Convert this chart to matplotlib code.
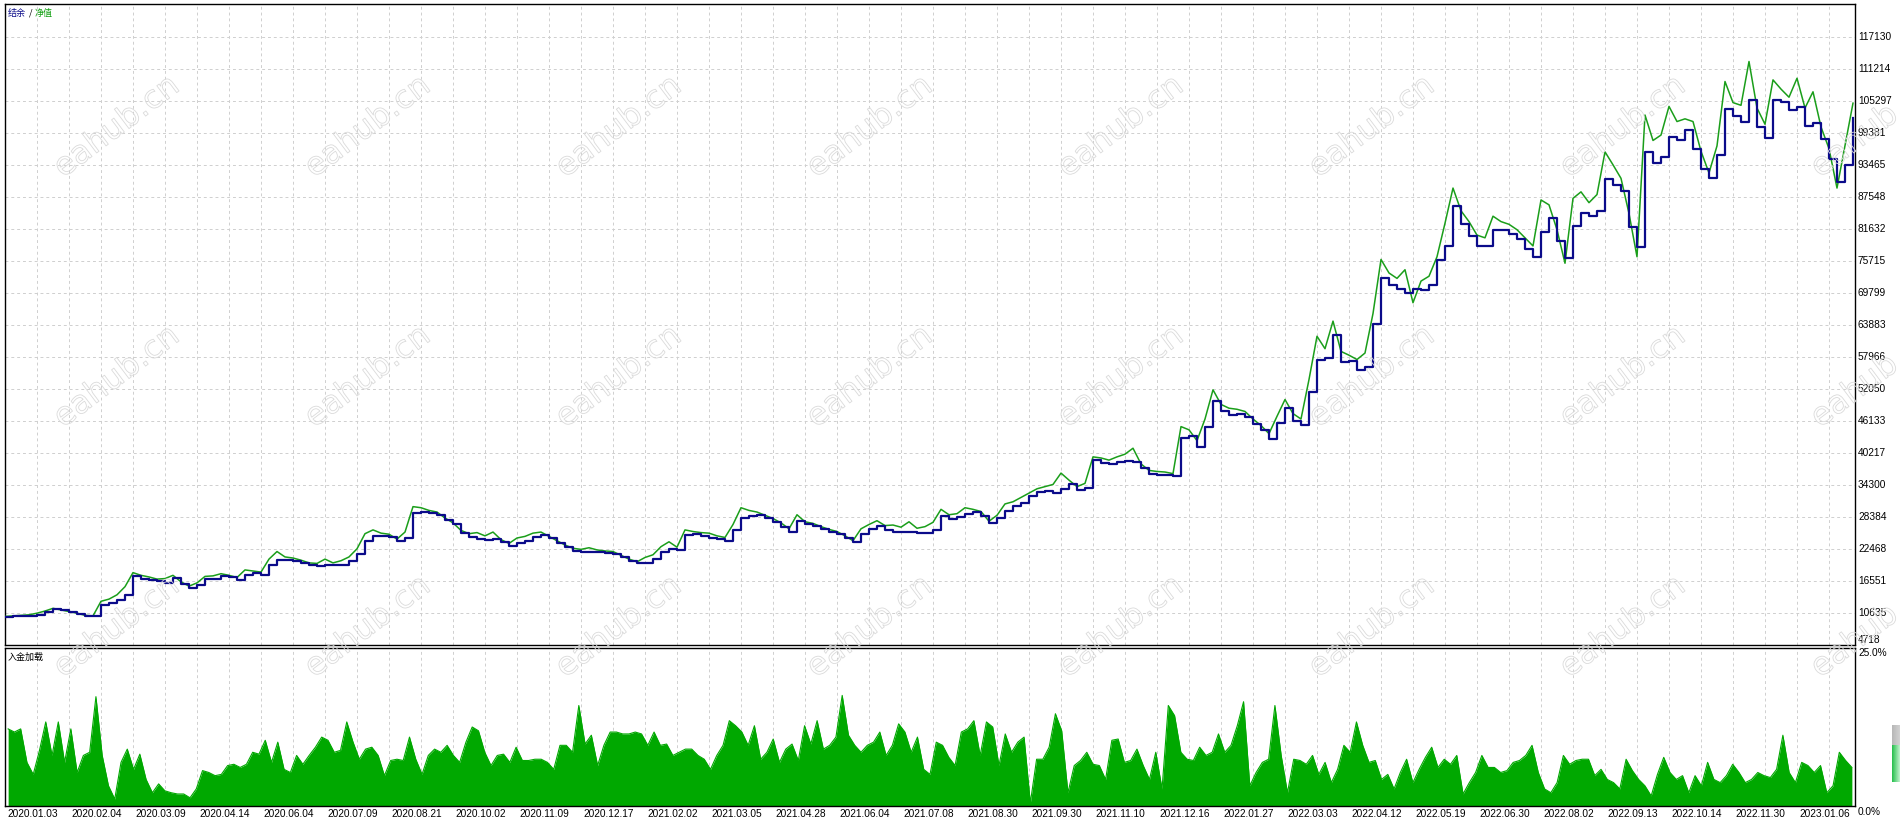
import numpy as np
import matplotlib
matplotlib.use("Agg")
import matplotlib.pyplot as plt
from matplotlib import patheffects
import matplotlib.transforms as mtransforms

# ---------------- data ----------------
date_labels = ["2020.01.03", "2020.02.04", "2020.03.09", "2020.04.14", "2020.06.04",
               "2020.07.09", "2020.08.21", "2020.10.02", "2020.11.09", "2020.12.17",
               "2021.02.02", "2021.03.05", "2021.04.28", "2021.06.04", "2021.07.08",
               "2021.08.30", "2021.09.30", "2021.11.10", "2021.12.16", "2022.01.27",
               "2022.03.03", "2022.04.12", "2022.05.19", "2022.06.30", "2022.08.02",
               "2022.09.13", "2022.10.14", "2022.11.30", "2023.01.06"]

y_tick_values = [4718, 10635, 16551, 22468, 28384, 34300, 40217, 46133, 52050, 57966,
                 63883, 69799, 75715, 81632, 87548, 93465, 99381, 105297, 111214, 117130]

load_tick_labels = ["25.0%", "0.0%"]

# balance (thousands)
balance_k = [9.9, 10.0, 10.0, 10.1, 10.3, 10.8, 11.3, 11.1, 10.8, 10.5,
             10.1, 10.0, 12.2, 12.5, 13.1, 14.0, 17.4, 17.0, 16.8, 16.5,
             16.2, 17.1, 16.0, 15.3, 15.8, 16.9, 17.0, 17.4, 17.2, 16.8,
             17.6, 18.0, 17.7, 19.5, 20.5, 20.5, 20.2, 19.9, 19.5, 19.3,
             19.6, 19.6, 19.6, 20.2, 21.5, 24.0, 24.8, 24.8, 24.6, 23.9,
             24.5, 29.1, 29.4, 29.1, 28.8, 27.8, 27.0, 25.4, 24.6, 24.4,
             24.2, 24.3, 23.8, 23.0, 23.5, 23.9, 24.6, 25.1, 24.5, 23.6,
             22.8, 22.1, 22.0, 22.0, 21.9, 21.7, 21.5, 21.0, 20.2, 19.8,
             19.9, 20.6, 22.0, 22.5, 22.3, 25.0, 25.2, 24.8, 24.5, 24.4,
             23.9, 26.0, 28.2, 28.5, 28.8, 28.2, 27.5, 26.5, 25.7, 27.6,
             27.0, 26.7, 26.2, 25.7, 25.3, 24.5, 23.7, 25.3, 26.2, 26.7,
             25.9, 25.7, 25.7, 25.6, 25.5, 25.4, 26.0, 28.5, 28.0, 28.3,
             29.0, 29.3, 28.6, 27.3, 28.2, 29.5, 30.4, 31.0, 32.2, 33.0,
             33.2, 32.8, 33.5, 34.5, 33.4, 33.7, 39.0, 38.4, 38.1, 38.5,
             38.7, 38.6, 37.5, 36.3, 36.2, 36.2, 35.9, 43.0, 43.3, 41.4,
             45.0, 49.8, 48.0, 47.3, 47.5, 46.8, 45.5, 44.5, 42.8, 45.7,
             48.5, 46.2, 45.4, 51.5, 57.5, 57.8, 62.0, 57.0, 57.2, 55.6,
             56.2, 64.0, 72.5, 71.2, 70.5, 69.8, 70.5, 70.4, 71.3, 75.9,
             78.4, 85.8, 82.5, 80.3, 78.4, 78.5, 81.5, 81.5, 80.7, 79.8,
             78.0, 76.5, 81.0, 83.6, 79.5, 76.2, 82.1, 84.5, 84.0, 85.0,
             90.8, 89.8, 88.6, 82.0, 78.3, 95.9, 93.8, 95.0, 98.6, 98.1,
             100.0, 96.5, 92.8, 91.0, 95.3, 103.9, 102.5, 101.5, 105.5, 100.4,
             98.4, 105.5, 105.2, 103.6, 104.2, 100.6, 101.2, 98.2, 94.5, 90.4,
             93.5, 102.1]

# equity (thousands)
equity_k = [10.0, 10.1, 10.2, 10.3, 10.6, 11.0, 11.5, 11.2, 10.9, 10.6,
            10.2, 10.1, 12.8, 13.2, 14.0, 15.5, 18.1, 17.6, 17.3, 16.9,
            17.0, 17.6, 16.4, 15.6, 16.2, 17.4, 17.5, 17.9, 17.6, 17.2,
            18.6, 18.4, 18.2, 20.6, 22.0, 21.0, 20.8, 20.4, 19.9, 19.8,
            20.6, 19.9, 20.3, 21.0, 22.5, 25.3, 26.0, 25.4, 25.2, 24.3,
            25.6, 30.3, 30.1, 29.6, 29.3, 28.2, 27.3, 25.9, 25.3, 25.5,
            24.9, 25.6, 24.2, 23.5, 24.5, 24.8, 25.4, 25.6, 24.8, 24.0,
            23.2, 22.6, 22.4, 22.7, 22.3, 22.1, 22.0, 21.3, 20.6, 20.1,
            20.9, 21.4, 22.9, 23.8, 22.8, 26.0, 25.7, 25.5, 25.4, 24.9,
            24.6, 27.0, 30.1, 29.6, 29.3, 28.7, 28.1, 27.3, 26.2, 28.8,
            27.5, 27.2, 26.6, 26.1, 25.7, 24.9, 24.0, 26.2, 27.0, 27.7,
            26.8, 26.9, 26.5, 27.5, 26.3, 26.6, 27.4, 29.8, 28.8, 29.0,
            30.1, 29.8, 29.4, 27.6, 28.7, 30.8, 31.2, 32.0, 32.8, 33.6,
            34.0, 34.4, 36.5, 35.2, 34.0, 34.6, 39.5, 39.3, 38.9, 39.5,
            40.0, 41.1, 38.2, 37.0, 36.8, 36.7, 36.4, 45.1, 44.5, 42.5,
            46.5, 51.9, 49.2, 48.5, 48.3, 47.9, 46.5, 45.3, 43.8, 47.0,
            50.1, 47.5, 46.5, 53.8, 61.8, 59.5, 64.6, 59.0, 58.3, 57.5,
            58.7, 66.0, 76.0, 73.5, 72.5, 74.1, 68.0, 72.0, 72.9, 76.5,
            82.7, 89.2, 85.0, 83.0, 80.5, 80.0, 84.0, 83.0, 82.5, 81.5,
            80.0, 78.5, 87.0, 86.1, 81.5, 75.3, 87.3, 88.5, 86.5, 88.0,
            95.9, 93.5, 91.0, 84.5, 76.5, 102.7, 98.0, 99.0, 104.3, 101.5,
            102.0, 101.5, 96.0, 92.0, 97.0, 108.9, 105.0, 104.5, 112.6, 104.0,
            101.0, 109.2, 107.5, 106.0, 109.5, 104.0, 107.0, 100.5, 96.5, 89.2,
            97.0, 104.9]

# deposit load (%)
deposit_load = [12.2, 11.7, 12.2, 6.9, 5.0, 8.8, 13.3, 8.0, 13.3, 6.9,
                12.2, 5.3, 8.0, 8.5, 17.3, 8.0, 3.2, 1.1, 6.9, 9.0,
                5.8, 8.2, 4.2, 2.1, 3.5, 2.4, 2.1, 1.9, 1.9, 1.3,
                2.7, 5.6, 5.3, 4.8, 5.0, 6.4, 6.6, 6.1, 6.6, 8.5,
                8.2, 10.4, 6.9, 10.1, 5.8, 5.3, 8.0, 6.6, 8.0, 9.3,
                10.9, 10.4, 8.5, 8.8, 13.3, 10.1, 7.4, 9.0, 9.3, 8.0,
                4.8, 7.2, 7.4, 7.2, 10.9, 7.4, 5.0, 8.0, 9.0, 8.5,
                9.6, 8.0, 6.9, 10.1, 12.5, 11.9, 8.5, 6.4, 8.0, 8.2,
                6.9, 9.3, 7.2, 7.2, 7.4, 7.4, 6.9, 5.8, 9.6, 9.6,
                8.5, 15.9, 9.8, 11.2, 6.4, 9.6, 11.7, 11.7, 11.4, 11.4,
                11.7, 11.4, 9.6, 11.7, 9.6, 9.8, 8.0, 8.5, 9.0, 9.0,
                8.0, 7.4, 5.8, 8.0, 9.6, 13.5, 12.7, 11.7, 9.6, 12.7,
                7.4, 8.5, 10.6, 6.9, 9.0, 9.8, 7.2, 12.7, 9.8, 13.5,
                9.0, 9.6, 10.9, 17.5, 11.2, 9.6, 8.5, 9.6, 10.1, 11.7,
                8.0, 9.6, 13.0, 11.7, 8.5, 10.9, 5.8,
                5.0, 10.1, 9.6, 7.7, 6.4, 11.7, 12.2, 13.5, 8.0, 13.3,
                12.5, 6.4, 11.4, 8.5, 10.1, 10.9, 0.5, 7.4, 7.4, 9.3,
                14.6, 11.9, 2.1, 6.4, 7.2, 8.5, 6.6, 6.4, 4.2, 10.4,
                10.6, 6.9, 7.2, 9.0, 6.4, 4.2, 8.5, 2.7, 15.9, 14.3,
                8.5, 7.4, 7.2, 9.3, 8.0, 8.5, 11.4, 8.5, 9.6, 12.7,
                16.5, 3.2, 5.3, 6.9, 7.4, 15.9, 8.0, 2.1, 7.4, 7.2,
                6.6, 8.0, 5.0, 6.9, 3.7, 5.8, 9.6, 8.5, 13.3, 9.6,
                6.9, 7.2, 4.2, 5.0, 2.7, 5.3, 7.4, 3.7, 5.8, 7.7,
                9.3, 6.1, 7.4, 6.6, 8.0, 1.9, 3.7, 5.3, 8.0, 6.1,
                6.1, 5.3, 5.6, 6.9, 7.2, 8.0, 9.6, 5.3, 2.7, 2.1,
                3.7, 8.0, 6.6, 7.2, 7.4, 7.4, 4.8, 5.8, 4.2, 3.7,
                2.7, 7.4, 5.6, 4.2, 3.2, 1.6, 5.0, 7.7, 5.3, 4.2,
                4.8, 2.1, 4.8, 3.2, 6.9, 4.2, 3.7, 4.8, 6.6, 5.3,
                3.7, 4.2, 5.3, 4.8, 4.5, 5.8, 11.2, 5.3, 3.7, 6.9,
                6.4, 5.3, 6.4, 2.1, 3.2, 8.5, 7.2, 6.1]

watermark = "eahub.cn"

# ---------------- styling ----------------
BLUE = "#0b0b8a"
GREEN_LINE = "#1a9e1a"
GREEN_BAR = "#00a800"
GRID = "#cfcfcf"
LBL_FONT = "Liberation Sans"
CJK = ["Noto Sans CJK SC", "DejaVu Sans"]

W, H = 1900, 823
fig = plt.figure(figsize=(W / 100, H / 100), dpi=100)
fig.patch.set_facecolor("white")


def fx(px):
    return px / W


def fy(py):
    return 1 - py / H


ax = fig.add_axes([fx(5), fy(645), fx(1855) - fx(5), fy(4) - fy(645)])
ax2 = fig.add_axes([fx(5), fy(806), fx(1855) - fx(5), fy(648) - fy(806)])

balance = np.array(balance_k) * 1000
equity = np.array(equity_k) * 1000
n = len(balance)
xs = np.arange(n)
x_max = n - 1 + 0.25

ytick_step = y_tick_values[1] - y_tick_values[0]
ytop = y_tick_values[-1] + ytick_step * 33 / 32

# main panel
ax.plot(xs, equity, color=GREEN_LINE, lw=1.1, zorder=3)
ax.plot(xs, balance, color=BLUE, lw=1.6, drawstyle="steps-post", zorder=4)
ax.set_xlim(0, x_max)
ax.set_ylim(y_tick_values[0], ytop)

grid_x = np.arange(4, x_max, 4)
dash = (0, (3, 3))
for a in (ax, ax2):
    for gx in grid_x:
        a.axvline(gx, color=GRID, lw=0.7, ls=dash, zorder=1)
for v in y_tick_values[1:]:
    ax.axhline(v, color=GRID, lw=0.7, ls=dash, zorder=1)

for a in (ax, ax2):
    a.set_xticks([])
    a.set_yticks([])
    for s in a.spines.values():
        s.set_color("black")
        s.set_linewidth(1.0)

# right-side value labels
trans = mtransforms.blended_transform_factory(ax.transAxes, ax.transData)
trans = mtransforms.offset_copy(trans, fig=fig, x=3, y=0, units="dots")
for v in y_tick_values:
    ax.text(1.0, v, str(v), transform=trans, ha="left",
            va="center" if v != y_tick_values[0] else "bottom",
            fontsize=7.3, family=LBL_FONT, color="black", clip_on=False)

# deposit load panel (dense histogram drawn as a filled profile)
nb = len(deposit_load)
bx = (np.arange(nb) + 0.5) * (x_max / nb)
ax2.fill_between(bx, 0, deposit_load, color=GREEN_BAR, lw=0, zorder=2)
ax2.plot(bx, deposit_load, color=GREEN_BAR, lw=0.8, zorder=2)
ax2.set_xlim(0, x_max)
ax2.set_ylim(0, 25)
t2 = mtransforms.offset_copy(ax2.transAxes, fig=fig, x=3, y=0, units="dots")
ax2.text(1.0, 1.0, load_tick_labels[0], transform=t2, ha="left", va="top",
         fontsize=7.3, family=LBL_FONT)
t2b = mtransforms.offset_copy(ax2.transAxes, fig=fig, x=3, y=-1, units="dots")
ax2.text(1.0, 0.0, load_tick_labels[1], transform=t2b, ha="left", va="top",
         fontsize=7.3, family=LBL_FONT)

# date labels
tdate = mtransforms.blended_transform_factory(ax2.transData, ax2.transAxes)
tdate = mtransforms.offset_copy(tdate, fig=fig, x=2, y=-3, units="dots")
for k, lab in enumerate(date_labels):
    ax2.text(k * 8, 0, lab, transform=tdate, ha="left", va="top",
             fontsize=7.3, family=LBL_FONT, clip_on=False)

# titles
fig.text(fx(8), fy(13), "结余", color=BLUE, fontsize=6.5, family=CJK, va="center")
fig.text(fx(29), fy(13), "/", color="black", fontsize=6.5, family=CJK, va="center")
fig.text(fx(35), fy(13), "净值", color="#12a012", fontsize=6.5, family=CJK, va="center")
fig.text(fx(8), fy(657), "入金加载", color="black", fontsize=6.5, family=CJK, va="center")

# scroll widget at right
sax = fig.add_axes([fx(1892), fy(782), fx(8), (782 - 725) / H])
grad = np.linspace(0, 1, 20)
cols = np.zeros((57, 20, 3))
for j in range(20):
    t = grad[j]
    cols[20:, j] = (0.15 + 0.6 * t, 0.75 + 0.2 * t, 0.3 + 0.5 * t)
    cols[:20, j] = (0.72 + 0.1 * t, 0.72 + 0.1 * t, 0.72 + 0.1 * t)
sax.imshow(cols, aspect="auto")
sax.axis("off")

# watermark (light hollow text)
for cy in (127, 377, 627):
    for k in range(8):
        cx = 117 + 251 * k
        fig.text(fx(cx), fy(cy), watermark, rotation=37, ha="center", va="center",
                 rotation_mode="anchor", fontsize=23, family="DejaVu Sans",
                 color="none", zorder=10,
                 path_effects=[patheffects.Stroke(linewidth=0.6, foreground="#dadada")])

fig.savefig("out.png", dpi=100, facecolor="white")
